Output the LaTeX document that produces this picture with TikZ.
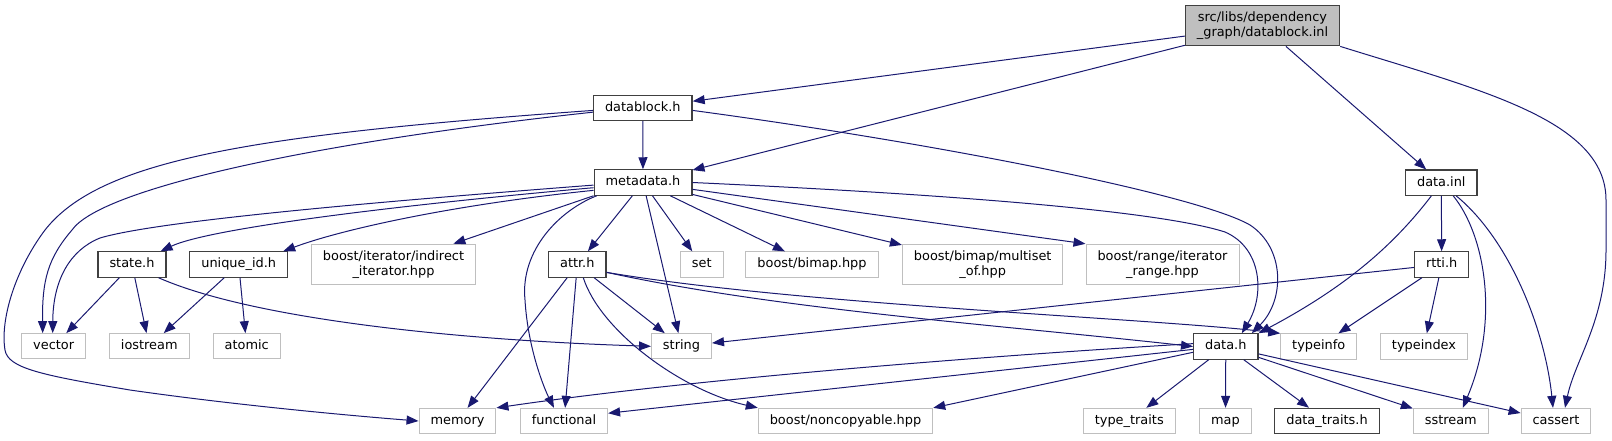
\documentclass[tikz,border=0pt]{standalone}
\usepackage{fontspec}
\setmainfont{DejaVu Sans}
\usepackage{tikz}
\usetikzlibrary{arrows.meta}
\definecolor{edgeblue}{HTML}{191970}
\definecolor{extline}{HTML}{BFBFBF}
\definecolor{hdrline}{HTML}{404040}
\definecolor{rootfill}{HTML}{BFBFBF}
\newcommand\depfont{\fontsize{12.9pt}{15pt}\selectfont}

\begin{document}
\begin{tikzpicture}[x=1pt,y=-1pt,
		base/.style={font=\depfont, inner xsep=11.5pt, inner ysep=0pt, minimum height=25.3pt},
		oneline/.style={text height=9.8pt, text depth=3.1pt},
		hdr/.style={base, oneline, draw=hdrline, line width=1.2pt},
		ext/.style={base, oneline, draw=extline, line width=1pt},
		extwide/.style={base, draw=extline, line width=1pt, align=center, minimum height=40pt},
		rootbox/.style={base, draw=hdrline, fill=rootfill, line width=1.2pt, align=center, minimum height=40pt},
		dep/.style={draw=edgeblue, line width=1pt, -{Triangle[length=12pt,width=9pt]}}]
		
		\useasboundingbox (0,0) rectangle (1612,440);
		
		\node[rootbox] (root) at (1262.5,25.8) {src/libs/dependency\\\_graph/datablock.inl};
		\node[hdr] (datablock) at (642.8,107.8) {datablock.h};
		\node[hdr] (metadata) at (643,182.5) {metadata.h};
		\node[hdr] (datainl) at (1441.3,182.7) {data.inl};
		
		\node[hdr] (state) at (132,264.5) {state.h};
		\node[hdr] (uniqueid) at (238.7,264.5) {unique\_id.h};
		\node[extwide] (indirect) at (393.5,264.2) {boost/iterator/indirect\\\_iterator.hpp};
		\node[hdr] (attr) at (577.3,264.5) {attr.h};
		\node[ext] (stdset) at (701.7,264.5) {set};
		\node[ext] (bimap) at (812,264.5) {boost/bimap.hpp};
		\node[extwide] (multiset) at (982.7,264.3) {boost/bimap/multiset\\\_of.hpp};
		\node[extwide] (range) at (1162.5,264.3) {boost/range/iterator\\\_range.hpp};
		\node[hdr] (rtti) at (1441.7,264.5) {rtti.h};
		
		\node[ext] (vector) at (53.7,346.3) {vector};
		\node[ext] (iostream) at (149.3,346.3) {iostream};
		\node[ext] (atomic) at (246.7,346.3) {atomic};
		\node[ext] (string) at (681.5,346.3) {string};
		\node[hdr] (datah) at (1225.8,346.5) {data.h};
		\node[ext] (typeinfo) at (1318.7,346.5) {typeinfo};
		\node[ext] (typeindex) at (1424,346.5) {typeindex};
		
		\node[ext] (memory) at (457.5,421) {memory};
		\node[ext] (functional) at (564,421) {functional};
		\node[ext] (noncopy) at (845.5,421) {boost/noncopyable.hpp};
		\node[ext] (typetraits) at (1129.3,421) {type\_traits};
		\node[ext] (stdmap) at (1225.5,421) {map};
		\node[hdr] (datatraits) at (1327,421) {data\_traits.h};
		\node[ext] (sstream) at (1450.8,421) {sstream};
		\node[ext] (cassert) at (1556,421) {cassert};
		
		\draw[dep] (root) -- (datablock);
		\draw[dep] (root) -- (metadata);
		\draw[dep] (root) -- (datainl);
		\draw[dep] (root.south east) .. controls (1480,90) and (1606,120) .. (1606,200) -- (1606,250) .. controls (1606,320) and (1575,360) .. ([xshift=9pt]cassert.north);
		
		\draw[dep] (datablock) -- (metadata);
		\draw[dep] (datablock.185) .. controls (300,144) and (100,190) .. (72,230) .. controls (48,258) and (42,280) .. ([xshift=-11pt]vector.north);
		\draw[dep] (datablock.183) .. controls (250,135) and (100,160) .. (45,230) .. controls (15,270) and (0,320) .. (5,350) .. controls (8,368) and (40,375) .. (130,390) .. controls (220,403) and (330,414) .. (memory.west);
		\draw[dep] (datablock.357) .. controls (950,145) and (1200,196) .. (1250,225) .. controls (1285,248) and (1285,300) .. ([xshift=26pt]datah.north);
		
		\draw[dep] (metadata.183) .. controls (400,200) and (160,220) .. (100,238) .. controls (70,250) and (53,280) .. ([xshift=-1pt]vector.north);
		\draw[dep] (metadata.186) .. controls (400,205) and (210,228) .. ([xshift=-6pt]state.north east);
		\draw[dep] (metadata.189) .. controls (450,205) and (340,230) .. ([xshift=-5pt]uniqueid.north east);
		\draw[dep] (metadata.195) -- (indirect);
		\draw[dep] (metadata.196) .. controls (560,210) and (520,250) .. (525,300) .. controls (528,350) and (545,390) .. ([xshift=-10pt]functional.north);
		\draw[dep] (metadata) -- (attr);
		\draw[dep] (metadata) -- (string);
		\draw[dep] (metadata) -- (stdset);
		\draw[dep] (metadata) -- (bimap);
		\draw[dep] (metadata) -- (multiset);
		\draw[dep] (metadata) -- (range.north west);
		\draw[dep] (metadata.east) .. controls (900,192) and (1150,208) .. (1225,232) .. controls (1262,248) and (1265,295) .. ([xshift=16pt]datah.north);
		
		\draw[dep] (state) -- (vector);
		\draw[dep] (state) -- (iostream);
		\draw[dep] ([xshift=-8pt]state.south east) .. controls (250,318) and (450,340) .. (string.west);
		\draw[dep] (uniqueid) -- (iostream);
		\draw[dep] (uniqueid) -- (atomic);
		
		\draw[dep] (attr) -- (memory);
		\draw[dep] (attr) -- (functional);
		\draw[dep] ([xshift=6pt]attr.south) .. controls (600,330) and (680,390) .. (noncopy.north west);
		\draw[dep] (attr) -- (string);
		\draw[dep] (attr.345) .. controls (780,310) and (1000,325) .. (datah.west);
		\draw[dep] (attr.345) .. controls (800,305) and (1150,318) .. (typeinfo.north west);
		
		\draw[dep] (datainl) -- (rtti);
		\draw[dep] ([xshift=-10pt]datainl.south) .. controls (1390,250) and (1340,290) .. (datah.north east);
		\draw[dep] ([xshift=12pt]datainl.south) .. controls (1485,235) and (1500,320) .. ([xshift=12pt]sstream.north);
		\draw[dep] ([xshift=15pt]datainl.south) .. controls (1510,240) and (1545,330) .. ([xshift=-3pt]cassert.north);
		
		\draw[dep] (rtti) -- (string);
		\draw[dep] (rtti) -- (typeinfo);
		\draw[dep] (rtti) -- (typeindex);
		
		\draw[dep] (datah.175) .. controls (1000,355) and (700,378) .. (memory.north east);
		\draw[dep] (datah.185) -- (functional.10);
		\draw[dep] (datah.190) -- (noncopy.north east);
		\draw[dep] (datah) -- (typetraits);
		\draw[dep] (datah) -- (stdmap);
		\draw[dep] (datah) -- (datatraits);
		\draw[dep] (datah) -- (sstream);
		\draw[dep] (datah) -- (cassert);
		
	\end{tikzpicture}
\end{document}
